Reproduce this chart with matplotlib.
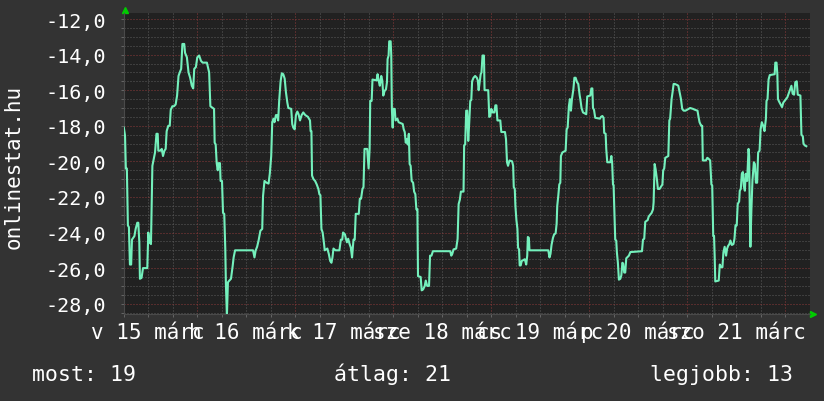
import matplotlib
matplotlib.use("Agg")
import matplotlib.pyplot as plt
from matplotlib.ticker import MultipleLocator, FuncFormatter, NullFormatter
from matplotlib.transforms import blended_transform_factory

# (hours since 15 March 00:00, value), one list per day
mar15 = [(6.0, -18.1), (6.3, -18.55), (6.5, -20.4), (6.75, -20.4), (7.0, -23.6), (7.25, -23.7),
         (7.5, -25.8), (7.8, -25.8), (8.0, -24.4), (8.3, -24.3), (8.6, -24.2), (8.9, -23.8),
         (9.3, -23.45), (9.55, -23.45), (9.8, -24.55), (9.95, -26.6), (10.35, -26.55), (10.7, -26.0),
         (11.75, -26.0), (12.0, -24.0), (12.3, -24.55), (12.65, -24.65), (13.0, -20.25), (13.3, -19.9),
         (13.65, -19.5), (14.0, -18.45), (14.3, -18.45), (14.45, -19.4), (14.95, -19.4), (15.3, -19.3),
         (15.6, -19.7), (15.95, -19.4), (16.25, -19.3), (16.5, -18.3), (16.9, -18.0), (17.25, -18.0),
         (17.5, -17.1), (17.9, -16.9), (18.3, -16.9), (18.7, -16.8), (19.05, -16.3), (19.4, -15.2),
         (19.7, -15.0), (20.05, -14.8), (20.35, -13.4), (20.8, -13.4), (21.0, -13.9), (21.45, -14.15),
         (21.85, -15.0), (22.25, -15.3), (22.65, -15.75), (23.0, -15.9), (23.25, -14.8), (23.65, -14.7)]
mar16 = [(24.0, -14.15), (24.45, -14.05), (24.9, -14.35), (25.3, -14.45), (26.35, -14.45), (26.6, -14.7),
         (26.9, -15.0), (27.2, -16.9), (28.1, -17.05), (28.25, -18.95), (28.5, -19.05), (28.75, -20.1),
         (29.0, -20.5), (29.2, -20.1), (29.55, -20.1), (29.7, -21.1), (30.05, -21.1), (30.3, -22.9),
         (30.6, -22.95), (30.85, -24.9), (31.0, -26.85), (31.25, -28.7), (31.5, -26.8), (31.85, -26.7),
         (32.25, -26.6), (32.65, -25.9), (32.9, -25.4), (33.25, -25.0), (37.65, -25.0), (38.0, -25.4),
         (38.3, -25.0), (38.65, -24.8), (39.05, -24.4), (39.45, -23.9), (39.9, -23.8), (40.1, -21.95),
         (40.45, -21.1), (40.95, -21.2), (41.45, -21.25), (41.75, -20.7), (42.1, -19.7), (42.35, -17.8),
         (42.65, -17.6), (42.9, -17.8), (43.25, -17.4), (43.55, -17.4), (43.8, -17.7), (44.05, -16.6),
         (44.4, -15.5), (44.7, -15.05), (45.05, -15.1), (45.4, -15.35), (45.7, -16.1), (46.05, -16.7),
         (46.3, -17.0), (47.0, -17.05), (47.25, -17.9), (47.5, -18.1), (47.85, -18.2)]
mar17 = [(48.15, -17.4), (48.5, -17.2), (48.8, -17.35), (49.15, -17.7), (49.55, -17.4), (49.95, -17.25),
         (50.45, -17.4), (51.1, -17.5), (51.6, -17.7), (51.75, -18.3), (51.95, -18.3), (52.1, -20.8),
         (52.45, -21.0), (52.85, -21.1), (53.25, -21.3), (53.65, -21.55), (53.9, -21.85), (54.15, -21.9),
         (54.4, -23.8), (54.7, -24.0), (55.05, -24.65), (55.2, -25.0), (55.85, -24.9), (56.2, -25.2),
         (56.55, -25.6), (56.85, -25.7), (57.1, -25.4), (57.35, -24.9), (57.85, -25.0), (58.8, -25.0),
         (59.15, -24.4), (59.5, -24.4), (59.7, -24.0), (60.15, -24.1), (60.4, -24.35), (60.65, -24.55),
         (60.95, -24.35), (61.3, -24.65), (61.6, -24.85), (61.9, -25.4), (62.25, -24.4), (62.55, -24.4),
         (62.8, -22.95), (63.55, -22.95), (63.8, -22.1), (64.1, -22.1), (64.45, -21.55), (64.7, -21.45),
         (64.95, -19.3), (65.6, -19.3), (65.95, -20.4), (66.2, -19.3), (66.35, -16.6), (66.7, -16.6),
         (66.9, -15.4), (67.9, -15.45), (68.15, -15.1), (68.4, -15.45), (68.7, -15.75), (69.05, -15.2),
         (69.3, -15.45), (69.55, -16.3), (69.85, -16.05), (70.2, -15.95), (70.45, -15.55), (70.6, -14.25),
         (70.85, -14.05), (71.0, -13.25), (71.35, -13.25), (71.5, -14.05), (71.65, -17.05), (71.85, -18.1)]
mar18 = [(72.0, -17.05), (72.35, -17.05), (72.55, -17.7), (73.0, -17.6), (73.3, -17.8), (74.3, -17.9),
         (74.55, -18.2), (74.8, -18.35), (75.05, -18.95), (75.3, -18.75), (75.55, -19.05), (75.8, -18.45),
         (76.0, -20.15), (76.25, -20.25), (76.5, -21.1), (76.85, -21.2), (77.1, -21.7), (77.4, -21.85),
         (77.65, -22.7), (77.9, -22.7), (78.05, -26.45), (78.7, -26.5), (78.95, -27.25), (79.3, -27.2),
         (79.7, -27.0), (79.95, -26.7), (80.3, -27.0), (80.75, -27.0), (81.0, -25.3), (81.35, -25.3),
         (81.7, -25.05), (85.95, -25.05), (86.2, -25.3), (86.45, -25.2), (86.75, -24.95), (87.4, -24.9),
         (87.75, -24.35), (88.0, -22.4), (88.3, -22.15), (88.55, -21.7), (89.2, -21.7), (89.35, -19.1),
         (89.6, -19.05), (89.85, -17.15), (90.1, -17.15), (90.35, -18.85), (90.6, -17.8), (90.85, -16.6),
         (91.1, -16.55), (91.3, -15.5), (91.65, -15.3), (92.05, -15.2), (92.45, -15.3), (92.7, -15.45),
         (92.9, -16.0), (93.15, -15.55), (93.4, -15.1), (93.6, -15.0), (93.85, -14.05), (94.2, -14.05),
         (94.35, -16.0), (95.25, -16.0), (95.5, -17.5), (95.75, -17.45)]
mar19 = [(96.0, -17.05), (96.35, -17.25), (96.75, -17.25), (97.0, -16.85), (97.25, -16.85), (97.5, -17.7),
         (98.2, -17.7), (98.45, -18.35), (99.35, -18.35), (99.6, -18.75), (99.85, -20.05), (100.1, -20.25),
         (100.45, -19.95), (101.1, -20.0), (101.35, -20.25), (101.5, -21.45), (101.75, -21.55), (101.9, -22.5),
         (102.15, -23.3), (102.4, -23.8), (102.55, -24.85), (102.8, -24.95), (102.95, -25.85), (103.2, -25.85),
         (103.45, -25.6), (104.2, -25.5), (104.55, -25.8), (104.8, -25.3), (104.95, -24.25), (105.2, -24.3),
         (105.35, -25.0), (109.95, -25.0), (110.25, -25.4), (110.5, -25.2), (110.75, -24.7), (111.1, -24.3),
         (111.4, -24.1), (111.75, -24.05), (112.0, -23.5), (112.15, -22.5), (112.4, -21.95), (112.65, -21.3),
         (112.9, -21.2), (113.05, -19.7), (113.4, -19.5), (114.2, -19.4), (114.45, -18.2), (114.7, -18.1),
         (115.0, -16.9), (115.25, -16.5), (115.5, -17.15), (115.75, -16.5), (116.1, -15.95), (116.35, -15.3),
         (116.65, -15.3), (117.0, -15.55), (117.3, -15.65), (117.65, -16.3), (117.8, -16.5), (118.1, -17.0),
         (118.45, -17.25), (119.25, -17.35), (119.5, -16.35)]
mar20 = [(120.25, -16.3), (120.5, -15.9), (120.75, -15.9), (120.9, -17.0), (121.15, -17.1), (121.45, -17.55),
         (122.6, -17.6), (122.85, -17.5), (123.2, -17.45), (123.5, -17.55), (123.65, -18.4), (124.0, -18.45),
         (124.15, -19.3), (124.4, -20.05), (125.15, -20.05), (125.4, -19.7), (125.6, -20.1), (125.8, -21.3),
         (125.95, -21.35), (126.1, -22.5), (126.35, -24.4), (126.6, -24.45), (126.75, -25.1), (127.0, -25.7),
         (127.25, -26.65), (127.6, -26.6), (127.85, -26.4), (128.1, -25.7), (128.3, -25.75), (128.55, -26.25),
         (128.8, -26.25), (129.05, -25.45), (129.7, -25.3), (130.05, -25.1), (132.9, -25.05), (133.15, -24.4),
         (133.45, -24.35), (133.7, -23.4), (134.3, -23.3), (134.55, -23.1), (135.25, -22.9), (135.6, -22.7),
         (135.75, -22.3), (136.0, -20.15), (136.25, -20.45), (136.55, -21.0), (136.8, -21.55), (137.2, -21.55),
         (137.9, -21.3), (138.1, -20.5), (138.35, -20.4), (138.6, -19.8), (139.35, -19.7), (139.6, -17.7),
         (139.8, -17.6), (140.15, -16.5), (140.4, -16.1), (140.65, -15.65), (140.95, -15.65), (141.45, -15.7),
         (141.8, -15.75), (142.1, -16.1), (142.45, -16.5), (142.75, -17.05), (143.1, -17.15), (143.55, -17.15)]
mar21 = [(144.3, -17.05), (144.7, -17.0), (145.4, -17.05), (145.85, -17.1), (146.5, -17.15), (146.75, -17.5),
         (147.0, -17.8), (147.4, -18.0), (147.65, -18.0), (147.8, -19.95), (148.55, -19.95), (148.9, -19.8),
         (149.2, -19.85), (149.6, -19.95), (149.9, -21.3), (150.1, -21.35), (150.35, -24.2), (150.55, -24.2),
         (150.7, -25.3), (150.85, -26.75), (151.7, -26.7), (151.95, -25.8), (152.25, -25.95), (152.6, -25.95),
         (152.85, -25.1), (153.15, -24.8), (153.5, -25.3), (153.75, -24.9), (154.0, -24.75), (154.3, -24.65),
         (154.55, -24.45), (154.9, -24.7), (155.3, -24.65), (155.55, -24.35), (155.8, -23.6), (156.1, -23.6),
         (156.35, -22.4), (156.7, -22.25), (156.85, -21.65), (157.1, -21.55), (157.35, -20.7), (157.6, -20.6),
         (157.85, -21.4), (158.1, -21.65), (158.3, -20.7), (158.65, -21.1), (159.0, -19.3), (159.15, -19.7),
         (159.3, -22.7), (159.45, -24.8), (159.7, -22.7), (159.95, -21.1), (160.3, -20.05), (160.55, -20.15),
         (160.8, -21.2), (161.1, -21.2), (161.35, -19.5), (161.7, -19.4), (161.95, -18.2), (162.25, -17.8),
         (162.6, -18.0), (162.9, -18.3), (163.25, -17.6), (163.4, -16.6), (163.65, -16.5), (163.9, -15.4),
         (164.2, -15.15), (165.4, -15.1), (165.55, -14.45), (165.85, -14.45), (166.05, -15.1), (166.2, -16.5),
         (166.5, -16.65), (166.85, -16.8), (167.2, -16.95), (167.5, -16.7), (168.15, -16.5), (168.5, -16.4),
         (168.8, -16.2), (169.15, -15.95), (169.5, -15.75), (169.8, -16.2), (170.15, -16.25), (170.45, -15.55),
         (170.8, -15.5), (171.05, -16.25), (171.7, -16.3), (171.95, -18.5), (172.3, -18.6), (172.45, -19.0),
         (172.75, -19.1), (173.15, -19.15)]

day_labels = ["v 15 márc", "h 16 márc", "k 17 márc", "sze 18 márc",
              "cs 19 márc", "p 20 márc", "szo 21 márc"]
legend_texts = ["most: 19", "átlag: 21", "legjobb: 13"]
ylabel = "onlinestat.hu"

BG = "#333333"
PLOT_BG = "#212121"
LINE = "#74f0bc"
GRID_MINOR = "#5c5c5c"
GRID_MAJOR = "#8c3a3a"
MONO = "DejaVu Sans Mono"

points = mar15 + mar16 + mar17 + mar18 + mar19 + mar20 + mar21
hours = [p[0] for p in points]
temps = [p[1] for p in points]

W, H = 824, 402
fig = plt.figure(figsize=(W / 100, H / 100), dpi=100, facecolor=BG)
ax = fig.add_axes([123.8 / W, (H - 315) / H, 686 / W, 301 / H])
ax.set_facecolor(PLOT_BG)

ax.plot(hours, temps, color=LINE, lw=1.5, zorder=3)

ax.set_xlim(6, 174)
ax.set_ylim(-28.58, -11.66)

# grid: minor every 6h / 0.5, major (red) every day / 2
ax.xaxis.set_major_locator(MultipleLocator(24))
ax.xaxis.set_minor_locator(MultipleLocator(6))
ax.yaxis.set_major_locator(MultipleLocator(2))
ax.yaxis.set_minor_locator(MultipleLocator(0.5))
ax.grid(which="minor", color=GRID_MINOR, lw=0.72, ls=(0, (1, 2)))
ax.grid(which="major", color=GRID_MAJOR, lw=0.72, ls=(0, (1, 2)))
ax.set_axisbelow(True)

ax.xaxis.set_major_formatter(NullFormatter())
ax.yaxis.set_major_formatter(FuncFormatter(lambda v, p: f"{v:.1f}".replace(".", ",")))
ax.tick_params(which="both", direction="out", length=2.5, width=0.7, color="#666666")
ax.tick_params(axis="y", which="major", labelsize=14.5, labelcolor="white", pad=10)
for lab in ax.get_yticklabels():
    lab.set_family(MONO)

for side in ("top", "right"):
    ax.spines[side].set_visible(False)
for side in ("left", "bottom"):
    ax.spines[side].set_color("#4a4a4a")
    ax.spines[side].set_linewidth(0.8)

# day labels centred at noon
tr = blended_transform_factory(ax.transData, ax.transAxes)
for i, lab in enumerate(day_labels):
    ax.text(12 + 24 * i, -0.079, lab, transform=tr, ha="center", va="baseline",
            fontsize=15, family=MONO, color="white", clip_on=False)

# rrdtool style arrows
ax.plot([0.0018], [1.01], marker="^", ms=4.5, color="#00cc00", transform=ax.transAxes, clip_on=False)
ax.plot([1.005], [0.0], marker=">", ms=4.5, color="#00cc00", transform=ax.transAxes, clip_on=False)

fig.text(14 / W, 1 - 167 / H, ylabel, rotation=90, ha="center", va="center",
         fontsize=15, family=MONO, color="white")

legend_x = [32, 334, 650]
for x, txt in zip(legend_x, legend_texts):
    fig.text(x / W, (H - 381) / H, txt, ha="left", va="baseline",
             fontsize=15.5, family=MONO, color="white")

fig.savefig("out.png", dpi=100, facecolor=BG)
